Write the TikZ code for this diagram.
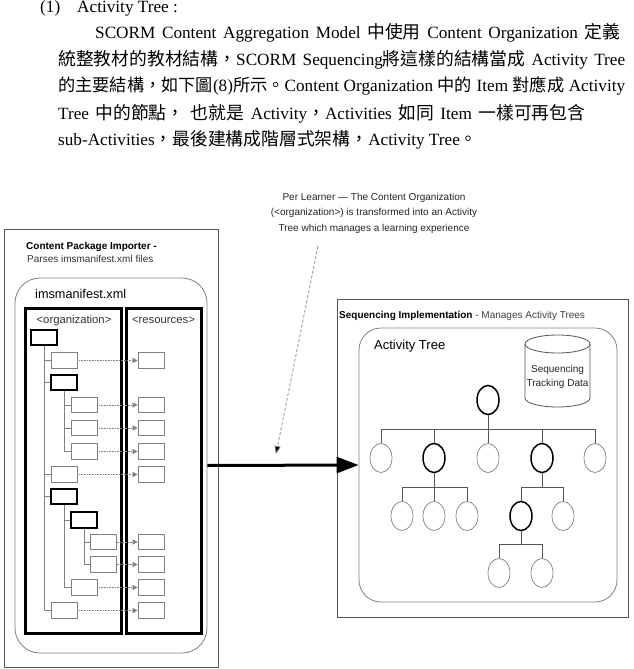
\documentclass[tikz,border=0pt]{standalone}
\usepackage{fontspec}
\setmainfont{Liberation Serif}
\setsansfont{Liberation Sans}
\newfontfamily\cjk{Noto Sans CJK TC}
\newcommand{\zh}[1]{{\cjk\fontsize{17.8}{20}\selectfont #1}}
\newcommand{\zhs}[1]{{\cjk\fontsize{17.2}{20}\selectfont #1}}
\usetikzlibrary{arrows.meta,shapes.geometric}
\definecolor{lgray}{HTML}{808080}
\definecolor{dgray}{HTML}{555555}
\tikzset{
  bodyline/.style={anchor=base west, inner sep=0pt, font=\fontsize{17.2}{20}\selectfont},
  lab/.style={anchor=base west, inner sep=0pt, font=\sffamily\fontsize{10}{12}\selectfont},
  frame/.style={draw=dgray, line width=0.9pt, inner sep=0pt},
  rbox/.style={draw=lgray, line width=0.8pt, rounded corners=25pt, inner sep=0pt},
  colbox/.style={draw=black, line width=3pt, inner sep=0pt},
  item/.style={draw=lgray, line width=0.7pt, minimum width=26pt, minimum height=15.5pt, inner sep=0pt},
  bitem/.style={draw=black, line width=2pt, minimum width=26pt, minimum height=15.5pt, inner sep=0pt},
  treeline/.style={draw=lgray, line width=0.8pt},
  link/.style={draw=lgray, line width=0.6pt, densely dotted, -{Triangle[length=5pt,width=5pt]}},
  act/.style={ellipse, draw=lgray, line width=0.7pt, minimum width=22pt, minimum height=29pt, inner sep=0pt},
  bact/.style={ellipse, draw=black, line width=1.5pt, minimum width=22pt, minimum height=29pt, inner sep=0pt},
  atree/.style={draw=dgray, line width=0.9pt},
}
\begin{document}
\begin{tikzpicture}[x=1pt,y=-1pt]
\useasboundingbox (0,0) rectangle (633,669);
\fill[white] (0,0) rectangle (633,669);

% ---- paragraph text
\node[bodyline] (t0) at (40,12.5) {(1)\hspace{17pt}Activity Tree :};
\node[bodyline] (t1) at (95,38.5) {\hbox to 525pt{SCORM Content Aggregation Model \zh{中使用} Content Organization \zh{定義}}};
\node[bodyline] (t2) at (58,65.5) {\hbox to 567pt{\zh{統整教材的教材結構，}SCORM Sequencing\zh{將這樣的結構當成} Activity Tree}};
\node[bodyline] (t3) at (58,92) {\hbox to 567pt{\zhs{的主要結構，如下圖}(8)\zhs{所示。}Content Organization \zhs{中的} Item \zhs{對應成} Activity}};
\node[bodyline] (t4) at (58,119) {\hbox to 527pt{Tree \zh{中的節點，} \zh{也就是} Activity\zh{，}Activities \zh{如同} Item \zh{一樣可再包含}}};
\node[bodyline] (t5) at (58,145.5) {sub-Activities\zh{，最後建構成階層式架構，}Activity Tree\zh{。}};

% ---- caption
\node[inner sep=0pt, align=center, font=\sffamily\fontsize{10}{15.5}\selectfont, text=black!85] (cap) at (374,213)
  {Per Learner — The Content Organization\\(<organization>) is transformed into an Activity\\Tree which manages a learning experience};

% ---- left package
\node[frame, minimum width=214pt, minimum height=438pt] (pkg) at (111,448) {};
\node[rbox, minimum width=192pt, minimum height=375pt] (mani) at (111,465.5) {};
\node[colbox, minimum width=96pt, minimum height=325pt] (org) at (73,470.5) {};
\node[colbox, minimum width=75pt, minimum height=325pt] (res) at (163.5,470.5) {};
\node[lab, font=\sffamily\bfseries\fontsize{10}{12}\selectfont] (pkgt) at (26,249.5) {Content Package Importer -};
\node[lab, text=black!80] (pkgs) at (27,262) {Parses imsmanifest.xml files};
\node[lab, font=\sffamily\fontsize{12.7}{14}\selectfont] (manit) at (35,298) {imsmanifest.xml};
\node[anchor=base, inner sep=0pt, font=\sffamily\fontsize{11.3}{13}\selectfont, text=black!80] (orgt) at (74,323) {<organization>};
\node[anchor=base, inner sep=0pt, font=\sffamily\fontsize{11.3}{13}\selectfont, text=black!80] (rest) at (163.5,323) {<resources>};

% items
\node[bitem] (r1) at (44,337.5) {};
\node[item]  (r2) at (64,360.5) {};
\node[bitem] (r3) at (64,382.5) {};
\node[item]  (r4) at (84,405) {};
\node[item]  (r5) at (84,428) {};
\node[item]  (r6) at (84,451.5) {};
\node[item]  (r7) at (64,474.5) {};
\node[bitem] (r8) at (64,496.5) {};
\node[bitem] (r9) at (84,520) {};
\node[item]  (r10) at (103.5,542) {};
\node[item]  (r11) at (103.5,564.5) {};
\node[item]  (r12) at (84,587.5) {};
\node[item]  (r13) at (64,610.5) {};
% resources
\foreach \k/\yy in {2/360.5,4/405,5/428,6/451.5,7/474.5,10/542,11/564.5,12/587.5,13/610.5}
  \node[item] (s\k) at (151,\yy) {};
% tree lines
\draw[treeline] (r1.south) |- (r13.west);
\foreach \k in {2,3,7,8} \draw[treeline] (r1.south |- r\k.west) -- (r\k.west);
\draw[treeline] (r3.south) |- (r6.west);
\foreach \k in {4,5} \draw[treeline] (r3.south |- r\k.west) -- (r\k.west);
\draw[treeline] (r8.south) |- (r12.west);
\draw[treeline] (r8.south |- r9.west) -- (r9.west);
\draw[treeline] (r9.south) |- (r11.west);
\draw[treeline] (r9.south |- r10.west) -- (r10.west);
% links
\foreach \k in {2,4,5,6,7,10,11,12,13} \draw[link] (r\k.east) -- (s\k.west);

% ---- right sequencing
\node[frame, minimum width=291pt, minimum height=318pt] (seq) at (482.5,458) {};
\node[rbox, rounded corners=22pt, minimum width=258pt, minimum height=274pt] (atr) at (488,465) {};
\node[lab] (seqt) at (339,318) {\textbf{Sequencing Implementation} \textcolor{black!75}{- Manages Activity Trees}};
\node[lab, font=\sffamily\fontsize{13}{15}\selectfont] (atrt) at (374,349) {Activity Tree};
% cylinder
\draw[draw=dgray, line width=0.8pt, fill=white] (525,344) -- (525,398) arc[start angle=180, end angle=360, x radius=32.5pt, y radius=9pt] -- (590,344);
\draw[draw=dgray, line width=0.8pt] (557.5,344) ellipse [x radius=32.5pt, y radius=9pt];
\node[inner sep=0pt, align=center, font=\sffamily\fontsize{10}{14}\selectfont, text=black!85] (cyl) at (557.5,377) {Sequencing\\Tracking Data};

% activity tree
\node[bact] (a0) at (488,400) {};
\coordinate (b0) at (488,429);
\node[act]  (a1) at (381,458) {};
\node[bact] (a2) at (434,458) {};
\node[act]  (a3) at (488,458) {};
\node[bact] (a4) at (542,458) {};
\node[act]  (a5) at (595,458) {};
\draw[atree] (a0.south) -- (b0);
\foreach \k in {1,2,3,4,5} \draw[atree] (a\k.north) |- (b0);
\coordinate (b2) at (434,487);
\node[act] (c1) at (402,516) {};
\node[act] (c2) at (434,516) {};
\node[act] (c3) at (467,516) {};
\draw[atree] (a2.south) -- (b2);
\foreach \k in {1,2,3} \draw[atree] (c\k.north) |- (b2);
\coordinate (b4) at (542,487);
\node[bact] (d1) at (521,516) {};
\node[act]  (d2) at (563,516) {};
\draw[atree] (a4.south) -- (b4);
\foreach \k in {1,2} \draw[atree] (d\k.north) |- (b4);
\coordinate (e0) at (521,544);
\node[act] (e1) at (499,573) {};
\node[act] (e2) at (542,573) {};
\draw[atree] (d1.south) -- (e0);
\foreach \k in {1,2} \draw[atree] (e\k.north) |- (e0);

% ---- arrows
\draw[line width=3pt, -{Triangle[length=22pt,width=16pt]}] (mani.east) -- (atr.west);
\coordinate (dstart) at (318,246);
\coordinate (dend) at (276,454);
\draw[draw=lgray, line width=0.7pt, densely dashed, -{Triangle[length=8pt,width=6pt,fill=black]}] (dstart) -- (dend);
\end{tikzpicture}
\end{document}
